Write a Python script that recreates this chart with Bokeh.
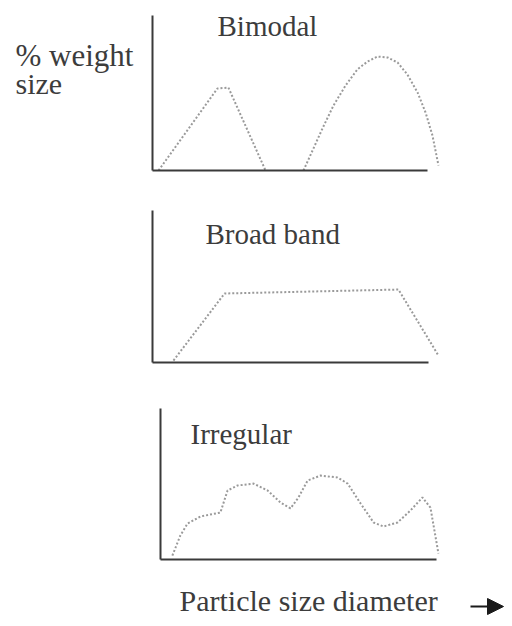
from bokeh.plotting import figure
from bokeh.models import Range1d, Label, Arrow, NormalHead, FixedTicker
from bokeh.layouts import column
from bokeh.embed import file_html
from bokeh.resources import INLINE

# ---- data (axis extent is 0..100 in both directions) ----
bimodal_a_x = [2.2, 23.6, 27.6, 41.1]
bimodal_a_y = [0.0, 52.9, 53.5, 0.0]
bimodal_b_x = [54.9, 58.2, 61.8, 65.8, 70.2, 74.5, 78.2, 81.8, 85.5, 89.1, 92.7, 96.4, 99.3, 101.8, 104.0]
bimodal_b_y = [0.0, 12.9, 27.1, 41.9, 54.8, 65.2, 70.3, 73.5, 72.9, 69.7, 61.9, 50.3, 37.4, 22.6, 3.2]

broad_x = [7.6, 26.1, 89.1, 103.6]
broad_y = [1.3, 45.4, 48.0, 4.6]

irreg_x = [4.3, 7.2, 9.8, 14.5, 21.7, 24.3, 27.9, 33.7, 38.8, 43.5, 47.1, 50.0, 53.3, 58.0,
           64.1, 67.8, 72.5, 77.2, 80.8, 85.9, 90.6, 94.9, 97.8, 100.7]
irreg_y = [2.6, 15.9, 23.8, 28.5, 31.1, 45.7, 49.0, 50.3, 45.7, 37.7, 33.8, 41.1, 52.3, 55.6,
           54.3, 50.3, 37.1, 24.5, 21.9, 24.5, 32.5, 41.1, 34.4, 4.0]

titles = ["Bimodal", "Broad band", "Irregular"]
y_label = ["% weight", "size"]
x_label = "Particle size diameter"

FONT = "Liberation Serif"
TXT = "#3c3c3c"
CURVE = "#9a9a9a"
AXIS = "#3a3a3a"

W = 504
OFF_X, OFF_Y = 0, 0   # observed page offset of the layout
TEXT_SHIFT = 10       # labels render about this much below the requested baseline


class Panel:
    """A figure whose frame fills the canvas; the axes are fixed at data 0."""

    def __init__(self, top, height, ax_left, ax_right, ax_top, ax_bottom):
        self.x0 = ax_left
        self.xs = (ax_right - ax_left) / 100.0
        self.y0 = ax_bottom
        self.ys = (ax_bottom - ax_top) / 100.0
        xr = Range1d((OFF_X - self.x0) / self.xs, (OFF_X + W - self.x0) / self.xs)
        yr = Range1d((self.y0 - (OFF_Y + top + height)) / self.ys, (self.y0 - OFF_Y - top) / self.ys)
        p = figure(width=W, height=height, x_range=xr, y_range=yr,
                   output_backend="svg", toolbar_location=None,
                   x_axis_location="above", y_axis_location="left",
                   min_border=0, min_border_left=0, min_border_right=0,
                   min_border_top=0, min_border_bottom=0)
        p.outline_line_color = None
        p.grid.visible = False
        for ax in (p.xaxis, p.yaxis):
            ax.ticker = FixedTicker(ticks=[])
            ax.major_tick_line_color = None
            ax.minor_tick_line_color = None
            ax.major_tick_out = 0
            ax.major_tick_in = 0
            ax.major_label_standoff = 0
            ax.major_label_text_font_size = "0px"
            ax.axis_line_color = AXIS
            ax.axis_line_width = 2
            ax.bounds = (0, 100)
            ax.fixed_location = 0
        self.p = p

    def px(self, x):
        return (x - self.x0) / self.xs

    def py(self, y):
        return (self.y0 - y) / self.ys

    def curve(self, xs, ys):
        self.p.line(xs, ys, line_color=CURVE, line_width=2, line_dash="2 2")

    def label(self, page_x, page_y, text, size="29px"):
        self.p.add_layout(Label(x=self.px(page_x), y=self.py(page_y - TEXT_SHIFT), text=text,
                                text_font=FONT, text_font_size=size, text_color=TXT,
                                text_baseline="alphabetic", text_align="left"))


a = Panel(0, 185, 152, 427, 15, 170)
a.curve(bimodal_a_x, bimodal_a_y)
a.curve(bimodal_b_x, bimodal_b_y)
a.label(217, 35, titles[0])
a.label(15, 65, y_label[0], "31px")
a.label(15, 93, y_label[1], "30px")

b = Panel(185, 195, 152, 428, 210, 362)
b.curve(broad_x, broad_y)
b.label(205, 243, titles[1])

c = Panel(380, 238, 160, 436, 408, 559)
c.curve(irreg_x, irreg_y)
c.label(190, 443, titles[2])
c.label(179, 610, x_label, "30px")
c.p.add_layout(Arrow(end=NormalHead(size=16, fill_color="#1a1a1a", line_color="#1a1a1a"),
                     x_start=c.px(470), y_start=c.py(606), x_end=c.px(503), y_end=c.py(606),
                     line_color="#1a1a1a", line_width=2))

layout = column(a.p, b.p, c.p, spacing=0)
open("out.html", "w").write(file_html(layout, INLINE))
